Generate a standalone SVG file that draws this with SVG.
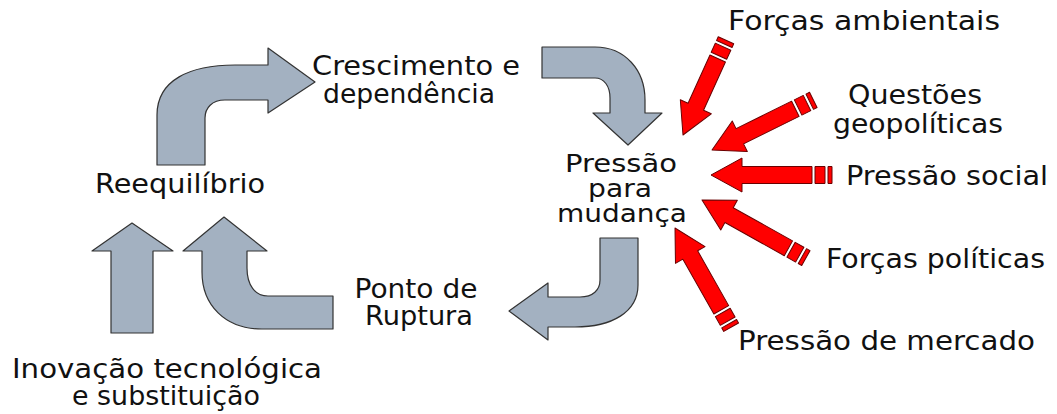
<svg xmlns="http://www.w3.org/2000/svg" width="1057" height="414" viewBox="0 0 1057 414">
<style>
.t{font-family:"DejaVu Sans","Liberation Sans",sans-serif;font-size:26px;fill:#111}
.s{font-size:25px}
.m{text-anchor:middle}
.g{fill:#A3B1C1;stroke:#333;stroke-width:1.2;stroke-linejoin:round}
.r{fill:#FF0000;stroke:#6a0000;stroke-width:1;stroke-linejoin:round}
</style>
<rect width="1057" height="414" fill="#fff"/>
<g id="connectors">
  <path class="g" d="M157,165 L157,115 C157,80 190,65 235,65 L268,65 L268,48 L315,82 L268,113 L268,100 L225,100 C212,100 205,108 205,118 L205,165 Z"/>
  <path class="g" d="M542,47 L595,47 C625,47 645,70 645,100 L645,113 L662,113 L628,145 L593,113 L610,113 L610,98 C610,86 604,78 595,78 L542,78 Z"/>
  <path class="g" d="M600,238 L638,238 L638,285 C638,312 612,327 575,327 L548,327 L548,340 L509,311 L548,283 L548,297 L580,297 C593,297 600,290 600,280 Z"/>
  <path class="g" d="M224,217 L267,251 L247,251 L247,268 C247,285 255,296 268,296 L333,296 L333,329 L262,329 C225,329 202,305 202,272 L202,251 L183,251 Z"/>
  <path class="g" d="M132,223 L173,251 L153,251 L153,333 L111,333 L111,251 L92,251 Z"/>
  <g transform="translate(683,135) rotate(-65.6)">
    <path class="r" d="M0,0 L31,-17 L31,-8.5 L84,-8.5 L84,8.5 L31,8.5 L31,17 Z"/>
    <rect class="r" x="87" y="-8.5" width="10" height="17"/><rect class="r" x="100" y="-8.5" width="4" height="17"/>
  </g>
  <g transform="translate(712,150) rotate(-26.3)">
    <path class="r" d="M0,0 L31,-17 L31,-8.5 L93,-8.5 L93,8.5 L31,8.5 L31,17 Z"/>
    <rect class="r" x="96" y="-8.5" width="10" height="17"/><rect class="r" x="109" y="-8.5" width="4" height="17"/>
  </g>
  <g transform="translate(711,175)">
    <path class="r" d="M0,0 L31,-17 L31,-8.5 L101,-8.5 L101,8.5 L31,8.5 L31,17 Z"/>
    <rect class="r" x="104" y="-8.5" width="10" height="17"/><rect class="r" x="117" y="-8.5" width="4" height="17"/>
  </g>
  <g transform="translate(702,200) rotate(29.2)">
    <path class="r" d="M0,0 L31,-17 L31,-8.5 L99,-8.5 L99,8.5 L31,8.5 L31,17 Z"/>
    <rect class="r" x="102" y="-8.5" width="10" height="17"/><rect class="r" x="115" y="-8.5" width="4" height="17"/>
  </g>
  <g transform="translate(675,228) rotate(60.5)">
    <path class="r" d="M0,0 L31,-17 L31,-8.5 L94,-8.5 L94,8.5 L31,8.5 L31,17 Z"/>
    <rect class="r" x="97" y="-8.5" width="10" height="17"/><rect class="r" x="110" y="-8.5" width="4" height="17"/>
  </g>
</g>
<g id="crescimento"><text class="t m" x="416" y="75" textLength="208" lengthAdjust="spacingAndGlyphs">Crescimento e</text><text class="t m" x="409" y="103" textLength="172" lengthAdjust="spacingAndGlyphs">dependência</text></g>
<g id="pressao"><text class="t s m" x="621" y="172" textLength="112" lengthAdjust="spacingAndGlyphs">Pressão</text><text class="t s m" x="620" y="197" textLength="64" lengthAdjust="spacingAndGlyphs">para</text><text class="t s m" x="622" y="222" textLength="130" lengthAdjust="spacingAndGlyphs">mudança</text></g>
<g id="reequilibrio"><text class="t m" x="180" y="193" textLength="170" lengthAdjust="spacingAndGlyphs">Reequilíbrio</text></g>
<g id="ruptura"><text class="t m" x="416" y="298" textLength="123" lengthAdjust="spacingAndGlyphs">Ponto de</text><text class="t m" x="419" y="325" textLength="108" lengthAdjust="spacingAndGlyphs">Ruptura</text></g>
<g id="inovacao"><text class="t m" x="167" y="378" textLength="310" lengthAdjust="spacingAndGlyphs">Inovação tecnológica</text><text class="t m" x="166" y="405" textLength="188" lengthAdjust="spacingAndGlyphs">e substituição</text></g>
<g id="ambientais"><text class="t" x="728" y="30" textLength="272" lengthAdjust="spacingAndGlyphs">Forças ambientais</text></g>
<g id="geopoliticas"><text class="t m" x="915" y="104" textLength="134" lengthAdjust="spacingAndGlyphs">Questões</text><text class="t m" x="918" y="133" textLength="170" lengthAdjust="spacingAndGlyphs">geopolíticas</text></g>
<g id="social"><text class="t" x="846" y="185" textLength="202" lengthAdjust="spacingAndGlyphs">Pressão social</text></g>
<g id="politicas"><text class="t" x="826" y="268" textLength="219" lengthAdjust="spacingAndGlyphs">Forças políticas</text></g>
<g id="mercado"><text class="t" x="738" y="350" textLength="297" lengthAdjust="spacingAndGlyphs">Pressão de mercado</text></g>
</svg>
